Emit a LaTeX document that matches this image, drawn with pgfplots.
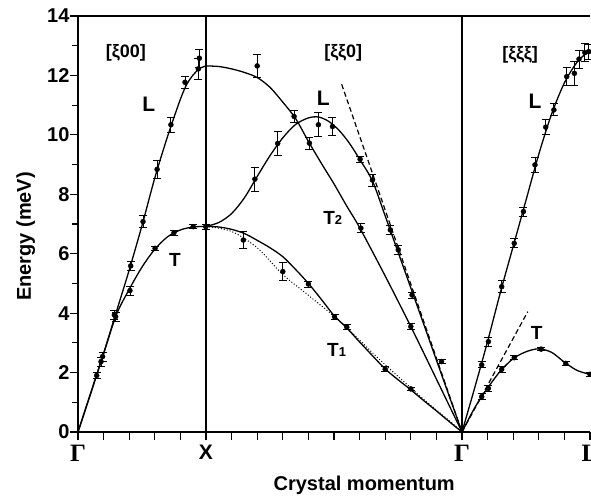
\documentclass[border=0pt]{standalone}
\usepackage{fontspec}
\setmainfont{Liberation Sans}
\newfontfamily\greekserif{Liberation Serif}
\usepackage{pgfplots}
\pgfplotsset{compat=1.18}

\pgfplotsset{
  branch/.style={black, line width=1.3pt, smooth, mark=none},
  meas/.style={black, only marks, mark=*, mark size=2.5pt,
    error bars/.cd, y dir=both, y explicit,
    error bar style={line width=0.9pt, black},
    error mark options={rotate=90, mark size=4pt, line width=0.9pt, black}},
}

\begin{document}
\begin{tikzpicture}
\begin{axis}[
  name=ax,
  scale only axis, width=512pt, height=416pt,
  xmin=0, xmax=20, ymin=0, ymax=14,
  axis x line=box, axis y line=left,
  axis line style={-, line width=1.7pt},
  xtick pos=bottom, ytick pos=left,
  tick align=outside,
  every tick/.style={black, line width=1.2pt},
  major tick length=8pt, minor tick length=6pt,
  xtick={0,1,...,20},
  xticklabels={{\greekserif\fontsize{25}{26}\selectfont Γ},,,,,{\fontsize{21}{22}\selectfont X},,,,,,,,,,{\greekserif\fontsize{25}{26}\selectfont Γ},,,,,{\greekserif\fontsize{25}{26}\selectfont L}},
  ytick={0,2,...,14},
  minor ytick={1,3,...,13},
  /pgf/number format/assume math mode=true,
  tick label style={font=\fontsize{20}{22}\selectfont\bfseries},
  xticklabel style={yshift=-2pt},
  yticklabel style={xshift=3pt},
  xlabel={Crystal momentum},
  ylabel={Energy (meV)},
  label style={font=\fontsize{20}{22}\selectfont\bfseries},
  xlabel style={at={(axis description cs:0.559,-0.127)}, anchor=center},
  ylabel style={at={(axis description cs:-0.102,0.47)}, anchor=center},
  clip=false,
]

% zone boundaries at X and Gamma
\draw[line width=1.1pt] (axis cs:5,0) -- (axis cs:5,14);
\draw[line width=1.1pt] (axis cs:15,0) -- (axis cs:15,14);

% ---------------- [xi 0 0] ----------------
\addplot[branch] coordinates {(0,0) (0.5,1.3) (1,2.65) (1.5,4.05) (2,5.45) (2.5,6.95) (3,8.55) (3.5,9.95) (4,11.2) (4.25,11.7) (4.5,12.02) (4.75,12.23) (5,12.32)};
\addplot[branch] coordinates {(0,0) (0.5,1.33) (1,2.63) (1.5,3.95) (2,4.8) (2.5,5.55) (3,6.15) (3.5,6.57) (4,6.8) (4.5,6.9) (5,6.92)};

\addplot[meas] coordinates {
  (0.73,1.90) +- (0,0.10)
  (0.96,2.54) +- (0,0.15)
  (1.42,3.94) +- (0,0.15)
  (2.06,5.59) +- (0,0.15)
  (2.54,7.08) +- (0,0.20)
  (3.09,8.84) +- (0,0.30)
  (3.63,10.34) +- (0,0.25)
  (4.18,11.77) +- (0,0.20)
  (4.70,12.22) +- (0,0.35)
  (4.74,12.58) +- (0,0.30)
};
\addplot[meas] coordinates {
  (0.90,2.37) +- (0,0.15)
  (1.47,3.88) +- (0,0.15)
  (2.03,4.76) +- (0,0.15)
  (3.01,6.18) +- (0,0.08)
  (3.75,6.71) +- (0,0.08)
  (4.50,6.91) +- (0,0.06)
  (4.99,6.91) +- (0,0.08)
};

% ---------------- [xi xi 0] ----------------
% T2 (from the upper X level)
\addplot[branch] coordinates {(5,12.32) (5.5,12.3) (6,12.22) (6.5,12.1) (7,11.93) (7.5,11.6) (8,11.1) (8.5,10.55) (9,9.78) (9.5,9.05) (10,8.35) (10.5,7.6) (11,6.88) (12,5.25) (13,3.55) (14,1.78) (15,0)};
% L (rising from the lower X level)
\addplot[branch] coordinates {(5,6.92) (5.5,7.05) (6,7.35) (6.5,7.88) (7,8.6) (7.5,9.3) (8,9.9) (8.5,10.35) (9,10.57) (9.4,10.6) (9.8,10.45) (10.2,10.15) (10.6,9.72) (11,9.18) (11.5,8.45) (12,7.27) (12.5,6.06) (13,4.85) (13.5,3.64) (14,2.42) (14.5,1.21) (15,0)};
% T1
\addplot[branch] coordinates {(5,6.92) (5.5,6.9) (6,6.82) (6.5,6.68) (7,6.45) (7.5,6.2) (8,5.9) (8.5,5.47) (9,5.0) (9.5,4.47) (10,3.92) (10.5,3.5) (11,3.03) (11.5,2.57) (12,2.12) (12.5,1.76) (13,1.42) (13.5,1.06) (14,0.71) (14.5,0.35) (15,0)};
% T1 model (dotted)
\addplot[black, line width=1pt, dotted, smooth, mark=none] coordinates {(5,6.92) (6,6.75) (7,6.2) (8,5.3) (9,4.6) (10,3.9) (10.6,3.43) (11.8,2.42) (12.8,1.64) (13.5,1.1) (14.5,0.38) (15,0)};
% sound velocity (dashed)
\addplot[black, line width=1.2pt, dash pattern=on 5pt off 3pt, mark=none] coordinates {(10.3,11.7) (15,0)};

\addplot[meas] coordinates {
  (6.46,6.46) +- (0,0.28)
  (8.00,5.40) +- (0,0.30)
  (9.00,4.98) +- (0,0.10)
  (10.02,3.88) +- (0,0.08)
  (10.50,3.53) +- (0,0.08)
  (12.00,2.11) +- (0,0.08)
  (13.00,1.45) +- (0,0.06)
};
\addplot[meas] coordinates {
  (7.00,12.32) +- (0,0.40)
  (8.44,10.62) +- (0,0.20)
  (9.04,9.72) +- (0,0.20)
  (11.05,6.86) +- (0,0.15)
  (13.00,3.55) +- (0,0.10)
};
\addplot[meas] coordinates {
  (6.91,8.51) +- (0,0.40)
  (7.80,9.71) +- (0,0.40)
  (9.39,10.34) +- (0,0.40)
  (9.94,10.28) +- (0,0.30)
  (11.02,9.18) +- (0,0.10)
  (11.50,8.48) +- (0,0.20)
  (12.20,6.80) +- (0,0.15)
  (12.51,6.13) +- (0,0.15)
  (13.05,4.61) +- (0,0.10)
  (14.20,2.37) +- (0,0.06)
};

% ---------------- [xi xi xi] ----------------
\addplot[branch] coordinates {(15,0) (15.5,1.5) (16,3.05) (16.5,4.7) (17,6.25) (17.5,7.8) (18,9.35) (18.5,10.7) (19,11.75) (19.5,12.45) (20,12.85)};
\addplot[branch] coordinates {(15,0) (15.5,0.82) (16,1.48) (16.5,2.05) (17,2.47) (17.5,2.7) (18,2.8) (18.5,2.68) (19,2.35) (19.5,2.07) (20,1.94)};
\addplot[black, line width=1.2pt, dash pattern=on 5pt off 3pt, mark=none] coordinates {(15,0) (17.57,4.05)};

\addplot[meas] coordinates {
  (15.77,2.26) +- (0,0.10)
  (16.03,3.04) +- (0,0.15)
  (16.55,4.89) +- (0,0.20)
  (17.04,6.35) +- (0,0.15)
  (17.40,7.42) +- (0,0.15)
  (17.85,8.99) +- (0,0.25)
  (18.27,10.26) +- (0,0.25)
  (18.59,10.84) +- (0,0.20)
  (19.09,11.96) +- (0,0.30)
  (19.39,12.07) +- (0,0.40)
  (19.57,12.55) +- (0,0.30)
  (19.80,12.77) +- (0,0.30)
  (19.95,12.80) +- (0,0.25)
};
\addplot[meas] coordinates {
  (15.77,1.19) +- (0,0.10)
  (16.03,1.47) +- (0,0.10)
  (16.55,2.11) +- (0,0.10)
  (17.04,2.50) +- (0,0.06)
  (18.09,2.79) +- (0,0.06)
  (19.05,2.31) +- (0,0.06)
  (20.00,1.94) +- (0,0.06)
};

% branch and direction labels
\begin{scope}[every node/.style={font=\bfseries}]
\node[font=\fontsize{18}{20}\selectfont\bfseries] at (axis cs:1.87,12.75) {[ξ00]};
\node[font=\fontsize{18}{20}\selectfont\bfseries] at (axis cs:10.36,12.75) {[ξξ0]};
\node[font=\fontsize{18}{20}\selectfont\bfseries] at (axis cs:17.27,12.69) {[ξξξ]};
\node[font=\fontsize{21}{22}\selectfont\bfseries] at (axis cs:2.77,11.04) {L};
\node[font=\fontsize{21}{22}\selectfont\bfseries] at (axis cs:9.58,11.24) {L};
\node[font=\fontsize{21}{22}\selectfont\bfseries] at (axis cs:17.85,11.12) {L};
\node[font=\fontsize{19}{20}\selectfont\bfseries] at (axis cs:3.79,5.79) {T};
\node[font=\fontsize{19}{20}\selectfont\bfseries] at (axis cs:17.92,3.32) {T};
\node[font=\fontsize{19}{20}\selectfont\bfseries] at (axis cs:9.95,7.2) {T{\fontsize{13}{14}\selectfont 2}};
\node[font=\fontsize{19}{20}\selectfont\bfseries] at (axis cs:10.1,2.76) {T{\fontsize{13}{14}\selectfont 1}};
\end{scope}
\end{axis}
\pgfresetboundingbox
\path ([shift={(-78pt,-65pt)}]ax.south west) rectangle ([shift={(1pt,16pt)}]ax.north east);
\end{tikzpicture}
\end{document}
